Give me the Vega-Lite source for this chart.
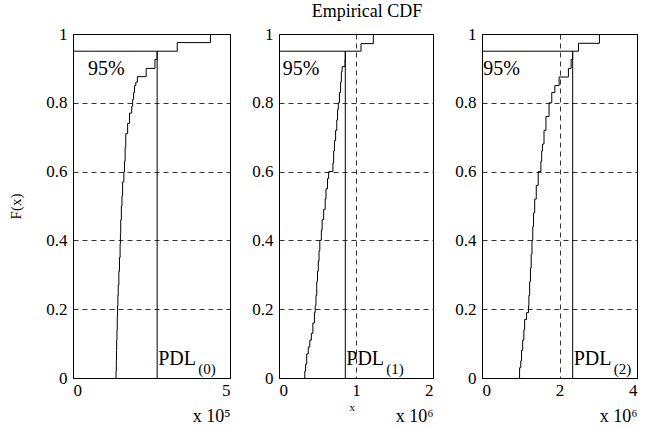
{
  "$schema": "https://vega.github.io/schema/vega-lite/v6.json",
  "background": "white",
  "padding": {"left": 8, "top": 2, "right": 6, "bottom": 4},
  "bounds": "flush",
  "spacing": 49,
  "config": {
    "view": {"stroke": "black", "strokeWidth": 1},
    "font": "Liberation Serif, Times New Roman, serif",
    "axis": {
      "labelFont": "Liberation Serif, Times New Roman, serif",
      "labelFontSize": 17,
      "labelFontWeight": "normal",
      "labelColor": "black",
      "format": "~g",
      "titleFont": "Liberation Serif, Times New Roman, serif",
      "titleFontWeight": "normal",
      "titleColor": "black",
      "titleFontSize": 18,
      "domain": false,
      "ticks": false,
      "grid": true,
      "gridColor": "black",
      "gridDash": [5, 4],
      "gridOpacity": 1,
      "gridWidth": 0.8
    },
    "text": {"font": "Liberation Serif, Times New Roman, serif", "color": "black"},
    "title": {"font": "Liberation Serif, Times New Roman, serif", "fontSize": 18, "fontWeight": "normal", "color": "black"}
  },
  "datasets": {
    "cdf": [
      {"panel": 0, "x": 1.36, "F": 0}, {"panel": 0, "x": 1.37, "F": 0.02}, {"panel": 0, "x": 1.38, "F": 0.05},
      {"panel": 0, "x": 1.385, "F": 0.08}, {"panel": 0, "x": 1.39, "F": 0.11}, {"panel": 0, "x": 1.40, "F": 0.14},
      {"panel": 0, "x": 1.41, "F": 0.18}, {"panel": 0, "x": 1.42, "F": 0.21}, {"panel": 0, "x": 1.43, "F": 0.24},
      {"panel": 0, "x": 1.44, "F": 0.27}, {"panel": 0, "x": 1.46, "F": 0.31}, {"panel": 0, "x": 1.48, "F": 0.35},
      {"panel": 0, "x": 1.50, "F": 0.39}, {"panel": 0, "x": 1.51, "F": 0.42}, {"panel": 0, "x": 1.52, "F": 0.46},
      {"panel": 0, "x": 1.54, "F": 0.5}, {"panel": 0, "x": 1.56, "F": 0.53}, {"panel": 0, "x": 1.58, "F": 0.57},
      {"panel": 0, "x": 1.62, "F": 0.6}, {"panel": 0, "x": 1.64, "F": 0.63}, {"panel": 0, "x": 1.66, "F": 0.67},
      {"panel": 0, "x": 1.68, "F": 0.71}, {"panel": 0, "x": 1.74, "F": 0.74}, {"panel": 0, "x": 1.80, "F": 0.77},
      {"panel": 0, "x": 1.87, "F": 0.79}, {"panel": 0, "x": 1.90, "F": 0.81}, {"panel": 0, "x": 1.93, "F": 0.83},
      {"panel": 0, "x": 1.96, "F": 0.85}, {"panel": 0, "x": 2.0, "F": 0.86}, {"panel": 0, "x": 2.05, "F": 0.876},
      {"panel": 0, "x": 2.33, "F": 0.90}, {"panel": 0, "x": 2.61, "F": 0.926}, {"panel": 0, "x": 2.68, "F": 0.95},
      {"panel": 0, "x": 3.32, "F": 0.975}, {"panel": 0, "x": 4.38, "F": 1},

      {"panel": 1, "x": 0.33, "F": 0}, {"panel": 1, "x": 0.335, "F": 0.02}, {"panel": 1, "x": 0.345, "F": 0.04},
      {"panel": 1, "x": 0.36, "F": 0.07}, {"panel": 1, "x": 0.38, "F": 0.09}, {"panel": 1, "x": 0.40, "F": 0.11},
      {"panel": 1, "x": 0.42, "F": 0.13}, {"panel": 1, "x": 0.44, "F": 0.16}, {"panel": 1, "x": 0.46, "F": 0.19},
      {"panel": 1, "x": 0.47, "F": 0.21}, {"panel": 1, "x": 0.48, "F": 0.24}, {"panel": 1, "x": 0.49, "F": 0.28},
      {"panel": 1, "x": 0.50, "F": 0.31}, {"panel": 1, "x": 0.51, "F": 0.34}, {"panel": 1, "x": 0.52, "F": 0.37},
      {"panel": 1, "x": 0.53, "F": 0.40}, {"panel": 1, "x": 0.55, "F": 0.43}, {"panel": 1, "x": 0.56, "F": 0.46},
      {"panel": 1, "x": 0.58, "F": 0.49}, {"panel": 1, "x": 0.60, "F": 0.52}, {"panel": 1, "x": 0.61, "F": 0.55},
      {"panel": 1, "x": 0.63, "F": 0.58}, {"panel": 1, "x": 0.645, "F": 0.6}, {"panel": 1, "x": 0.70, "F": 0.625},
      {"panel": 1, "x": 0.71, "F": 0.66}, {"panel": 1, "x": 0.72, "F": 0.69}, {"panel": 1, "x": 0.735, "F": 0.72},
      {"panel": 1, "x": 0.75, "F": 0.75}, {"panel": 1, "x": 0.76, "F": 0.78}, {"panel": 1, "x": 0.77, "F": 0.80},
      {"panel": 1, "x": 0.785, "F": 0.83}, {"panel": 1, "x": 0.80, "F": 0.86}, {"panel": 1, "x": 0.81, "F": 0.89},
      {"panel": 1, "x": 0.82, "F": 0.905}, {"panel": 1, "x": 0.857, "F": 0.926}, {"panel": 1, "x": 0.861, "F": 0.95},
      {"panel": 1, "x": 1.065, "F": 0.972}, {"panel": 1, "x": 1.225, "F": 1},

      {"panel": 2, "x": 0.96, "F": 0}, {"panel": 2, "x": 0.97, "F": 0.03}, {"panel": 2, "x": 1.0, "F": 0.05},
      {"panel": 2, "x": 1.02, "F": 0.08}, {"panel": 2, "x": 1.05, "F": 0.11}, {"panel": 2, "x": 1.08, "F": 0.14},
      {"panel": 2, "x": 1.10, "F": 0.17}, {"panel": 2, "x": 1.15, "F": 0.19}, {"panel": 2, "x": 1.2, "F": 0.21},
      {"panel": 2, "x": 1.21, "F": 0.24}, {"panel": 2, "x": 1.23, "F": 0.28}, {"panel": 2, "x": 1.25, "F": 0.32},
      {"panel": 2, "x": 1.27, "F": 0.36}, {"panel": 2, "x": 1.29, "F": 0.40}, {"panel": 2, "x": 1.31, "F": 0.44},
      {"panel": 2, "x": 1.33, "F": 0.48}, {"panel": 2, "x": 1.36, "F": 0.52}, {"panel": 2, "x": 1.40, "F": 0.56},
      {"panel": 2, "x": 1.45, "F": 0.6}, {"panel": 2, "x": 1.52, "F": 0.63}, {"panel": 2, "x": 1.54, "F": 0.66},
      {"panel": 2, "x": 1.56, "F": 0.68}, {"panel": 2, "x": 1.60, "F": 0.72}, {"panel": 2, "x": 1.65, "F": 0.76},
      {"panel": 2, "x": 1.73, "F": 0.8}, {"panel": 2, "x": 1.80, "F": 0.83}, {"panel": 2, "x": 1.88, "F": 0.85},
      {"panel": 2, "x": 1.99, "F": 0.875}, {"panel": 2, "x": 2.23, "F": 0.90}, {"panel": 2, "x": 2.30, "F": 0.926},
      {"panel": 2, "x": 2.34, "F": 0.95}, {"panel": 2, "x": 2.49, "F": 0.973}, {"panel": 2, "x": 3.03, "F": 1}
    ],
    "marks": [
      {"panel": 0, "pdl": 2.68, "level": 0.95, "start": 0, "bottom": 0, "pctx": 0.48, "pcty": 0.88, "pct": "95%", "name": "PDL", "sub": "(0)"},
      {"panel": 1, "pdl": 0.861, "level": 0.95, "start": 0, "bottom": 0, "pctx": 0.048, "pcty": 0.88, "pct": "95%", "name": "PDL", "sub": "(1)"},
      {"panel": 2, "pdl": 2.34, "level": 0.95, "start": 0, "bottom": 0, "pctx": 0.03, "pcty": 0.88, "pct": "95%", "name": "PDL", "sub": "(2)"}
    ],
    "stray": [
      {"panel": 1, "x": 0.95, "F": 0, "t": "x"}
    ]
  },
  "hconcat": [
    {
      "width": 157,
      "height": 344,
      "layer": [
        {
          "data": {"name": "cdf"},
          "transform": [{"filter": "datum.panel === 0"}],
          "mark": {"type": "line", "interpolate": "step-after", "color": "black", "strokeWidth": 1},
          "encoding": {
            "x": {"field": "x", "type": "quantitative", "scale": {"domain": [0, 5], "nice": false},
                  "axis": {"values": [0, 5], "title": "x 10⁵", "titleAnchor": "end", "titleAlign": "right", "labelPadding": 4, "titlePadding": 9}},
            "y": {"field": "F", "type": "quantitative", "scale": {"domain": [0, 1], "nice": false},
                  "axis": {"values": [0, 0.2, 0.4, 0.6, 0.8, 1], "title": "F(x)", "labelPadding": 6, "titlePadding": 22, "titleFontSize": 15}}
          }
        },
        {
          "data": {"name": "marks"},
          "transform": [{"filter": "datum.panel === 0"}],
          "layer": [
            {"mark": {"type": "rule", "color": "black", "strokeWidth": 1},
             "encoding": {"x": {"field": "start", "type": "quantitative"}, "x2": {"field": "pdl"}, "y": {"field": "level", "type": "quantitative"}}},
            {"mark": {"type": "rule", "color": "black", "strokeWidth": 1},
             "encoding": {"x": {"field": "pdl", "type": "quantitative"}, "y": {"field": "bottom", "type": "quantitative"}, "y2": {"field": "level"}}},
            {"mark": {"type": "text", "align": "left", "baseline": "alphabetic", "fontSize": 20},
             "encoding": {"x": {"field": "pctx", "type": "quantitative"}, "y": {"field": "pcty", "type": "quantitative"}, "text": {"field": "pct"}}},
            {"mark": {"type": "text", "align": "left", "baseline": "alphabetic", "fontSize": 20, "dx": 1, "dy": -13},
             "encoding": {"x": {"field": "pdl", "type": "quantitative"}, "y": {"field": "bottom", "type": "quantitative"}, "text": {"field": "name"}}},
            {"mark": {"type": "text", "align": "left", "baseline": "alphabetic", "fontSize": 15, "dx": 41, "dy": -4},
             "encoding": {"x": {"field": "pdl", "type": "quantitative"}, "y": {"field": "bottom", "type": "quantitative"}, "text": {"field": "sub"}}}
          ]
        }
      ]
    },
    {
      "width": 154,
      "height": 344,
      "title": {"text": "Empirical CDF", "offset": 4, "dx": 11},
      "layer": [
        {
          "data": {"name": "cdf"},
          "transform": [{"filter": "datum.panel === 1"}],
          "mark": {"type": "line", "interpolate": "step-after", "color": "black", "strokeWidth": 1},
          "encoding": {
            "x": {"field": "x", "type": "quantitative", "scale": {"domain": [0, 2], "nice": false},
                  "axis": {"values": [0, 1, 2], "title": "x 10⁶", "titleAnchor": "end", "titleAlign": "right", "labelPadding": 4, "titlePadding": 9}},
            "y": {"field": "F", "type": "quantitative", "scale": {"domain": [0, 1], "nice": false},
                  "axis": {"values": [0, 0.2, 0.4, 0.6, 0.8, 1], "title": null, "labelPadding": 6}}
          }
        },
        {
          "data": {"name": "marks"},
          "transform": [{"filter": "datum.panel === 1"}],
          "layer": [
            {"mark": {"type": "rule", "color": "black", "strokeWidth": 1},
             "encoding": {"x": {"field": "start", "type": "quantitative"}, "x2": {"field": "pdl"}, "y": {"field": "level", "type": "quantitative"}}},
            {"mark": {"type": "rule", "color": "black", "strokeWidth": 1},
             "encoding": {"x": {"field": "pdl", "type": "quantitative"}, "y": {"field": "bottom", "type": "quantitative"}, "y2": {"field": "level"}}},
            {"mark": {"type": "text", "align": "left", "baseline": "alphabetic", "fontSize": 20},
             "encoding": {"x": {"field": "pctx", "type": "quantitative"}, "y": {"field": "pcty", "type": "quantitative"}, "text": {"field": "pct"}}},
            {"mark": {"type": "text", "align": "left", "baseline": "alphabetic", "fontSize": 20, "dx": 1, "dy": -13},
             "encoding": {"x": {"field": "pdl", "type": "quantitative"}, "y": {"field": "bottom", "type": "quantitative"}, "text": {"field": "name"}}},
            {"mark": {"type": "text", "align": "left", "baseline": "alphabetic", "fontSize": 15, "dx": 41, "dy": -4},
             "encoding": {"x": {"field": "pdl", "type": "quantitative"}, "y": {"field": "bottom", "type": "quantitative"}, "text": {"field": "sub"}}}
          ]
        },
        {
          "data": {"name": "stray"},
          "mark": {"type": "text", "align": "center", "baseline": "middle", "fontSize": 11, "dy": 30},
          "encoding": {"x": {"field": "x", "type": "quantitative"}, "y": {"field": "F", "type": "quantitative"}, "text": {"field": "t"}}
        }
      ]
    },
    {
      "width": 155,
      "height": 344,
      "layer": [
        {
          "data": {"name": "cdf"},
          "transform": [{"filter": "datum.panel === 2"}],
          "mark": {"type": "line", "interpolate": "step-after", "color": "black", "strokeWidth": 1},
          "encoding": {
            "x": {"field": "x", "type": "quantitative", "scale": {"domain": [0, 4], "nice": false},
                  "axis": {"values": [0, 2, 4], "title": "x 10⁶", "titleAnchor": "end", "titleAlign": "right", "labelPadding": 4, "titlePadding": 9}},
            "y": {"field": "F", "type": "quantitative", "scale": {"domain": [0, 1], "nice": false},
                  "axis": {"values": [0, 0.2, 0.4, 0.6, 0.8, 1], "title": null, "labelPadding": 6}}
          }
        },
        {
          "data": {"name": "marks"},
          "transform": [{"filter": "datum.panel === 2"}],
          "layer": [
            {"mark": {"type": "rule", "color": "black", "strokeWidth": 1},
             "encoding": {"x": {"field": "start", "type": "quantitative"}, "x2": {"field": "pdl"}, "y": {"field": "level", "type": "quantitative"}}},
            {"mark": {"type": "rule", "color": "black", "strokeWidth": 1},
             "encoding": {"x": {"field": "pdl", "type": "quantitative"}, "y": {"field": "bottom", "type": "quantitative"}, "y2": {"field": "level"}}},
            {"mark": {"type": "text", "align": "left", "baseline": "alphabetic", "fontSize": 20},
             "encoding": {"x": {"field": "pctx", "type": "quantitative"}, "y": {"field": "pcty", "type": "quantitative"}, "text": {"field": "pct"}}},
            {"mark": {"type": "text", "align": "left", "baseline": "alphabetic", "fontSize": 20, "dx": 1, "dy": -13},
             "encoding": {"x": {"field": "pdl", "type": "quantitative"}, "y": {"field": "bottom", "type": "quantitative"}, "text": {"field": "name"}}},
            {"mark": {"type": "text", "align": "left", "baseline": "alphabetic", "fontSize": 15, "dx": 41, "dy": -4},
             "encoding": {"x": {"field": "pdl", "type": "quantitative"}, "y": {"field": "bottom", "type": "quantitative"}, "text": {"field": "sub"}}}
          ]
        }
      ]
    }
  ]
}
